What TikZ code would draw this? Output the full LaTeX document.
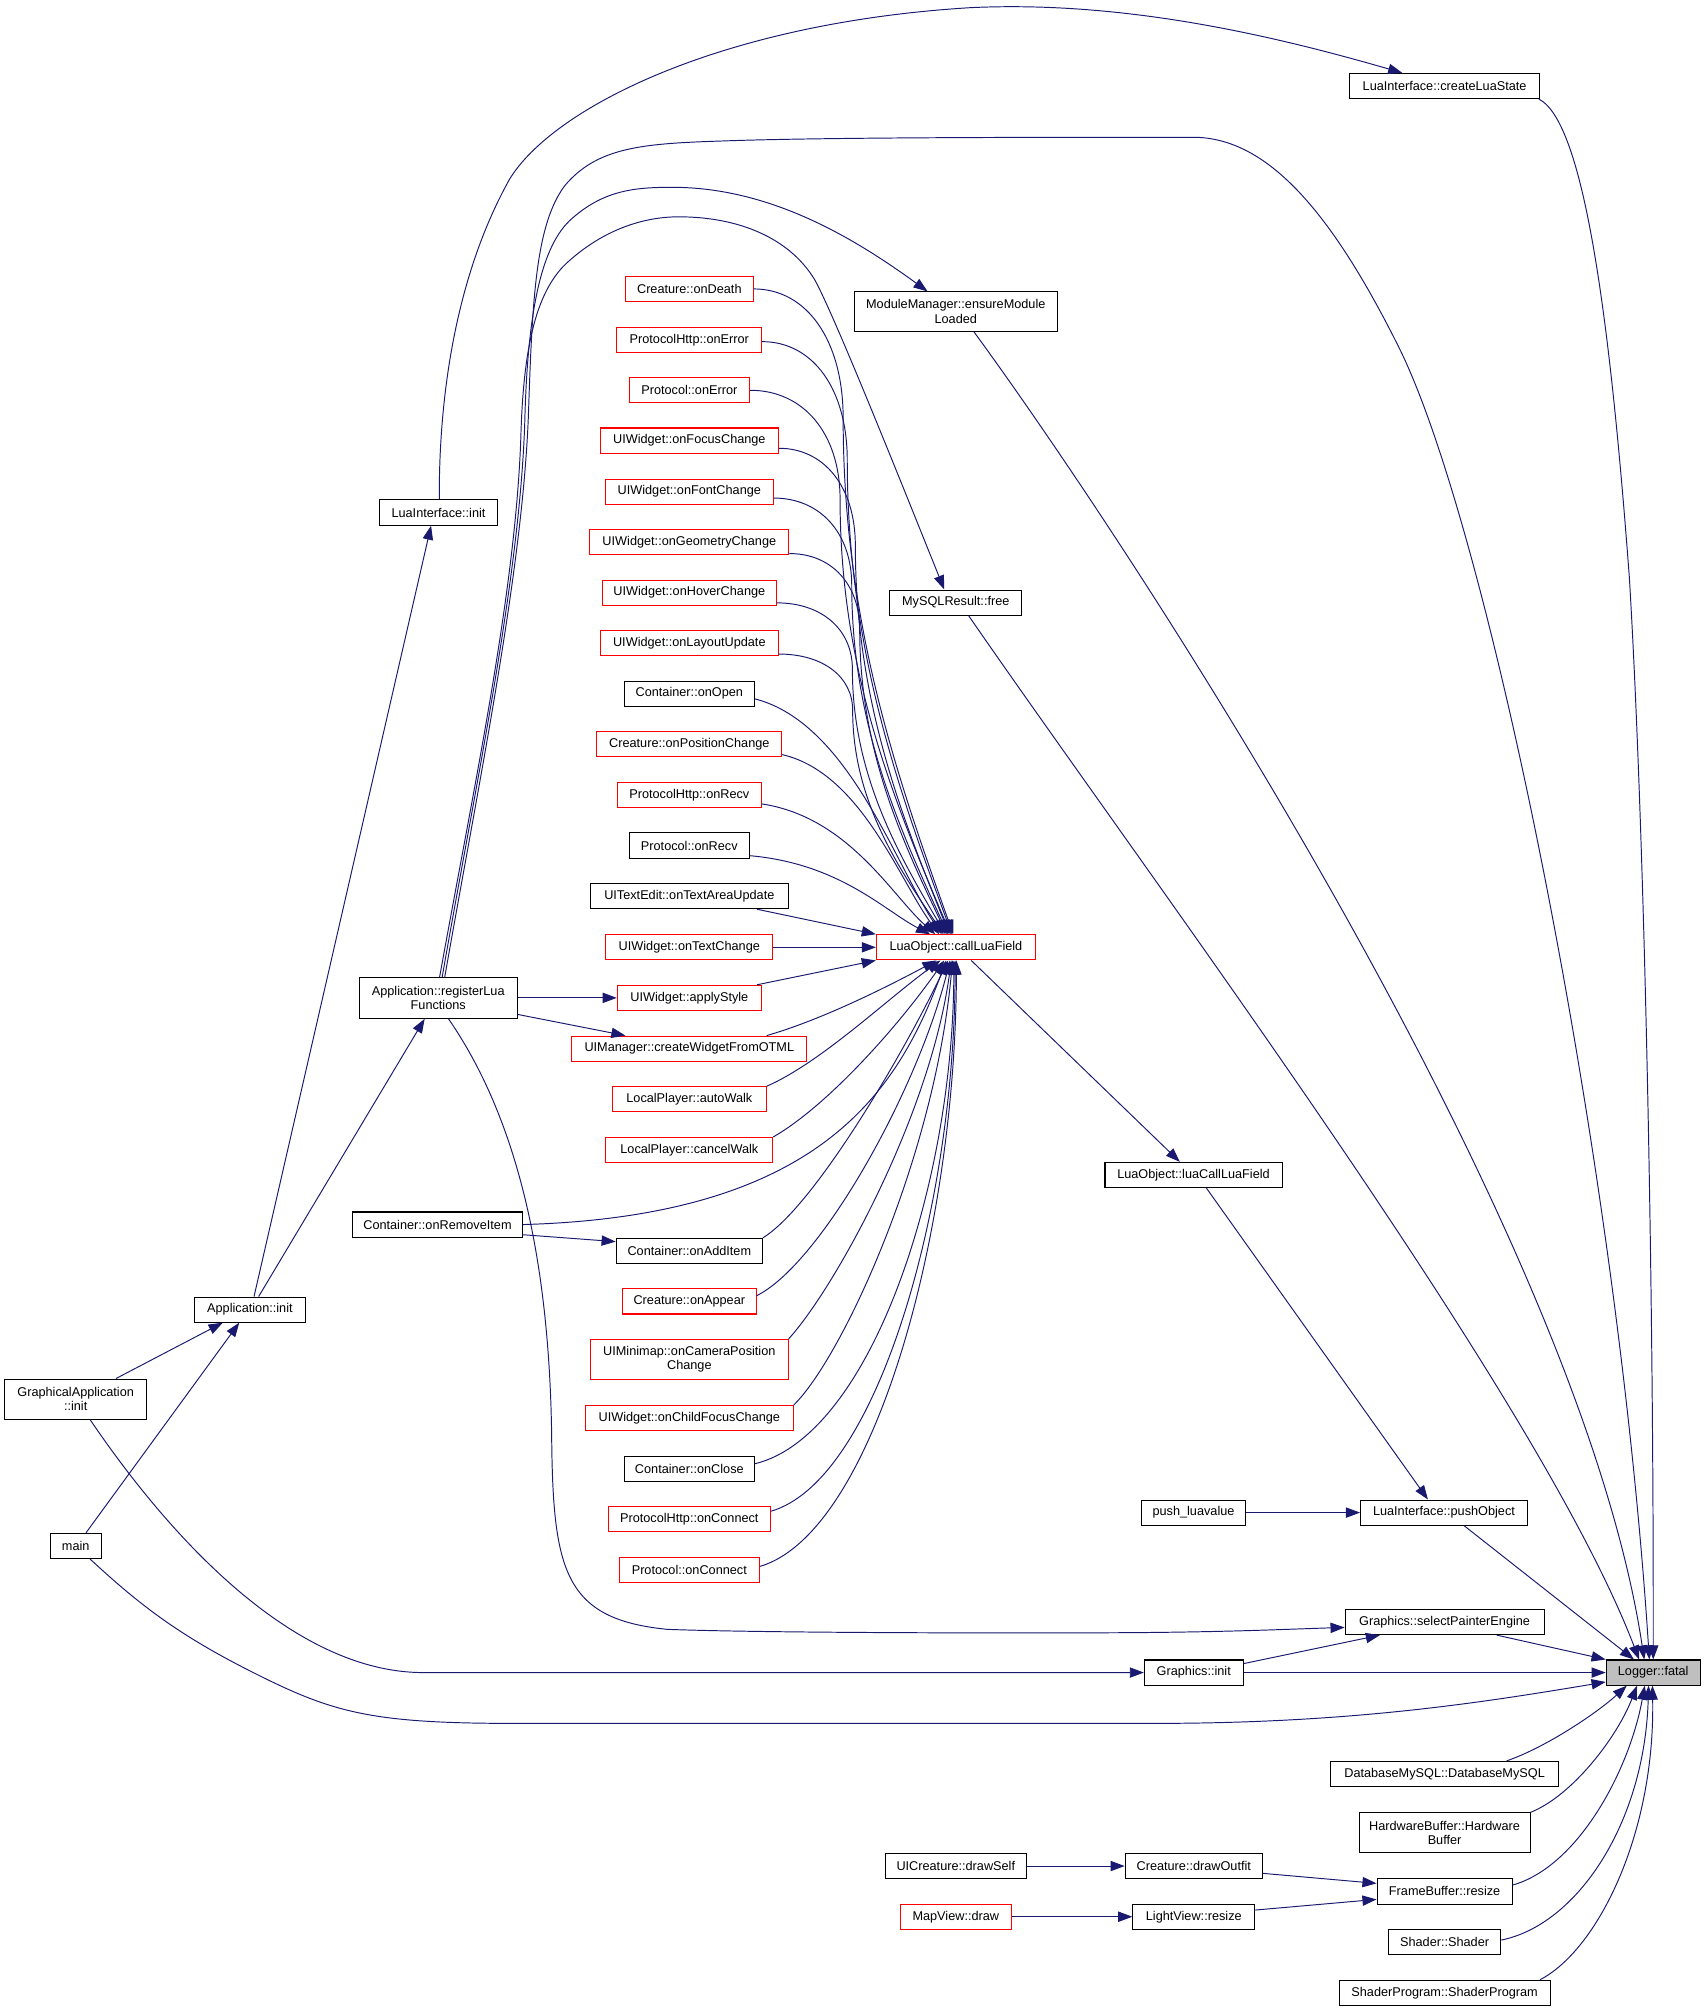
\documentclass[tikz,border=0pt]{standalone}
\usepackage{fontspec}
\setmainfont{Liberation Sans}
\usetikzlibrary{arrows.meta}
\definecolor{edgeblue}{HTML}{191970}
\definecolor{grayfill}{HTML}{BFBFBF}
\begin{document}
\begin{tikzpicture}[x=1pt,y=-1pt,
  nb/.style={draw=black, fill=white, line width=0.8pt, inner sep=0pt, align=center,
    font=\fontsize{9.9}{11}\selectfont, minimum height=19.6pt},
  nr/.style={nb, draw=red},
  ng/.style={nb, fill=grayfill},
  ed/.style={draw=edgeblue, line width=0.75pt, -{Triangle[length=11pt,width=8pt]}}]
\fill[white] (0,0) rectangle (1329,1567.5);
\useasboundingbox (0,0) rectangle (1329,1567.5);

% nodes
\node[ng, minimum width=73.3pt] (fatal) at (1288.6,1303.7) {Logger::fatal};
\node[nb, minimum width=148pt] (cls) at (1126,67) {LuaInterface::createLuaState};
\node[nb, minimum width=158pt, minimum height=30.5pt] (mm) at (745,242.8) {ModuleManager::ensureModule\\Loaded};
\node[nb, minimum width=103pt] (mysql) at (745,469.7) {MySQLResult::free};
\node[nb, minimum width=92pt] (lii) at (341.8,399.5) {LuaInterface::init};
\node[nr, minimum width=99.5pt] (n1) at (537.3,225.2) {Creature::onDeath};
\node[nr, minimum width=112.8pt] (n2) at (537.3,264.8) {ProtocolHttp::onError};
\node[nr, minimum width=94pt] (n3) at (537.3,304.2) {Protocol::onError};
\node[nr, minimum width=138.6pt] (n4) at (537.3,343.4) {UIWidget::onFocusChange};
\node[nr, minimum width=130.5pt] (n5) at (537.3,383.2) {UIWidget::onFontChange};
\node[nr, minimum width=155.3pt] (n6) at (537.3,422.5) {UIWidget::onGeometryChange};
\node[nr, minimum width=135.5pt] (n7) at (537.3,461.9) {UIWidget::onHoverChange};
\node[nr, minimum width=138.5pt] (n8) at (537.3,501.3) {UIWidget::onLayoutUpdate};
\node[nb, minimum width=101pt] (n9) at (537.3,540.7) {Container::onOpen};
\node[nr, minimum width=144pt] (n10) at (537.3,580.2) {Creature::onPositionChange};
\node[nr, minimum width=112pt] (n11) at (537.3,619.6) {ProtocolHttp::onRecv};
\node[nb, minimum width=94pt] (n12) at (537.3,659) {Protocol::onRecv};
\node[nb, minimum width=154.2pt] (n13) at (537.3,698.5) {UITextEdit::onTextAreaUpdate};
\node[nr, minimum width=130pt] (n14) at (537.3,738.4) {UIWidget::onTextChange};
\node[nr, minimum width=112.3pt] (n15) at (537.3,777.8) {UIWidget::applyStyle};
\node[nr, minimum width=183.2pt] (n16) at (537.3,817.4) {UIManager::createWidgetFromOTML};
\node[nr, minimum width=119.8pt] (n17) at (537.3,856.9) {LocalPlayer::autoWalk};
\node[nr, minimum width=130pt] (n18) at (537.3,896.4) {LocalPlayer::cancelWalk};
\node[nb, minimum width=132pt] (rem) at (341,954.5) {Container::onRemoveItem};
\node[nb, minimum width=114pt] (n19) at (537.3,975) {Container::onAddItem};
\node[nr, minimum width=104pt] (n20) at (537.3,1014.4) {Creature::onAppear};
\node[nr, minimum width=154pt, minimum height=31pt] (n21) at (537.3,1059.5) {UIMinimap::onCameraPosition\\Change};
\node[nr, minimum width=162pt] (n22) at (537.3,1105.3) {UIWidget::onChildFocusChange};
\node[nb, minimum width=101pt] (n23) at (537.3,1144.7) {Container::onClose};
\node[nr, minimum width=126pt] (n24) at (537.3,1184.1) {ProtocolHttp::onConnect};
\node[nr, minimum width=109pt] (n25) at (537.3,1223.5) {Protocol::onConnect};
\node[nr, minimum width=124pt] (clf) at (745.1,738.4) {LuaObject::callLuaField};
\node[nb, minimum width=138pt] (lclf) at (930.3,915.8) {LuaObject::luaCallLuaField};
\node[nb, minimum width=80.5pt] (plv) at (930.3,1179) {push\_luavalue};
\node[nb, minimum width=130pt] (po) at (1125.5,1179) {LuaInterface::pushObject};
\node[nb, minimum width=155pt] (spe) at (1126,1264.3) {Graphics::selectPainterEngine};
\node[nb, minimum width=77pt] (gi) at (930.5,1303.7) {Graphics::init};
\node[nb, minimum width=178pt] (db) at (1126,1382.7) {DatabaseMySQL::DatabaseMySQL};
\node[nb, minimum width=133.3pt, minimum height=31.2pt] (hb) at (1126,1428.6) {HardwareBuffer::Hardware\\Buffer};
\node[nb, minimum width=105.3pt] (fb) at (1126,1474.3) {FrameBuffer::resize};
\node[nb, minimum width=87.6pt] (sh) at (1126,1513.8) {Shader::Shader};
\node[nb, minimum width=164.5pt] (sp) at (1126,1553.3) {ShaderProgram::ShaderProgram};
\node[nb, minimum width=110pt] (ucd) at (745,1454.5) {UICreature::drawSelf};
\node[nb, minimum width=107pt] (cdo) at (930.5,1454.5) {Creature::drawOutfit};
\node[nr, minimum width=86.3pt] (mvd) at (745,1494) {MapView::draw};
\node[nb, minimum width=95pt] (lvr) at (930.5,1494) {LightView::resize};
\node[nb, minimum width=123pt, minimum height=31.5pt] (reg) at (341.6,778) {Application::registerLua\\Functions};
\node[nb, minimum width=86.5pt] (ai) at (194.8,1020.8) {Application::init};
\node[nb, minimum width=110.7pt, minimum height=31.2pt] (gai) at (59,1090.5) {GraphicalApplication\\::init};
\node[nb, minimum width=40pt] (mn) at (59,1205) {main};

% callers of callLuaField (upper)
\draw[ed] (n1.east) .. controls (629.1,225.2) and (657.2,265.5) .. (657.2,325.9) .. controls (657.2,487) and (700.1,607.8) .. ([xshift=-2.1pt]clf.north);
\draw[ed] ([yshift=-1.5pt]n2.east) .. controls (633.7,266.3) and (660.4,303.3) .. (660.4,358.8) .. controls (660.4,506.7) and (701.2,617.6) .. ([xshift=-3.1pt]clf.north);
\draw[ed] (n3.east) .. controls (626.6,304.2) and (654.8,338.2) .. (654.8,389.1) .. controls (654.8,524.9) and (697.9,626.7) .. ([xshift=-4.1pt]clf.north);
\draw[ed] ([yshift=-6pt]n4.east) .. controls (642.7,349.4) and (666.7,379.7) .. (666.7,425.2) .. controls (666.7,546.6) and (703.4,637.6) .. ([xshift=-5.1pt]clf.north);
\draw[ed] ([yshift=-5pt]n5.east) .. controls (639.3,388.2) and (663.9,415.4) .. (663.9,456.3) .. controls (663.9,565.2) and (701.5,646.9) .. ([xshift=-6.1pt]clf.north);
\draw[ed] ([yshift=-9pt]n6.east) .. controls (647.9,431.4) and (670.1,455.2) .. (670.1,490.8) .. controls (670.1,585.9) and (704.1,657.3) .. ([xshift=-7.1pt]clf.north);
\draw[ed] ([yshift=-8pt]n7.east) .. controls (640.6,469.9) and (664.4,490.6) .. (664.4,521.6) .. controls (664.4,604.4) and (700.7,666.5) .. ([xshift=-8.1pt]clf.north);
\draw[ed] ([yshift=-8.5pt]n8.east) .. controls (641.3,509.8) and (664.6,527.3) .. (664.6,553.6) .. controls (664.6,623.6) and (700,676.1) .. ([xshift=-9.6pt]clf.north);
\draw[ed] ([yshift=-4pt]n9.east) .. controls (660.9,563.1) and (697.5,673.4) .. ([xshift=-11.1pt]clf.north);
\draw[ed] ([yshift=-8pt]n10.east) .. controls (670.7,602.2) and (701.3,686.5) .. ([xshift=-13.1pt]clf.north);
\draw[ed] ([yshift=-7pt]n11.east) .. controls (661.2,636.8) and (695.1,698) .. ([xshift=-16.1pt]clf.north);
\draw[ed] ([yshift=-8pt]n12.east) .. controls (654.6,673.2) and (689.8,710.1) .. ([xshift=-20.1pt]clf.north);
\draw[ed] ([xshift=52.7pt]n13.south) -- (clf.north west);
\draw[ed] (n14.east) -- (clf.west);
\draw[ed] ([xshift=52.7pt]n15.north) -- (clf.south west);
% callers of callLuaField (lower)
\draw[ed] ([xshift=60.3pt]n16.north) .. controls (640,795) and (690,770) .. ([xshift=-15.1pt]clf.south);
\draw[ed] (n17.north east) .. controls (640,828) and (690,780) .. ([xshift=-12.1pt]clf.south);
\draw[ed] (n18.north east) .. controls (645,862) and (700,800) .. ([xshift=-9.1pt]clf.south);
\draw[ed] (rem.east) .. controls (640,948) and (700,850) .. ([xshift=-7.6pt]clf.south);
\draw[ed] (n19.north east) .. controls (635,940) and (705,820) .. ([xshift=-6.1pt]clf.south);
\draw[ed] ([yshift=4.4pt]n20.east) .. controls (640,985) and (715,850) .. ([xshift=-4.6pt]clf.south);
\draw[ed] (n21.north east) .. controls (650,1005) and (725,870) .. ([xshift=-3.6pt]clf.south);
\draw[ed] (n22.north east) .. controls (655,1060) and (728,905) .. ([xshift=-2.6pt]clf.south);
\draw[ed] ([yshift=3.7pt]n23.east) .. controls (678,1119.4) and (743,925) .. ([xshift=-1.6pt]clf.south);
\draw[ed] ([yshift=6.1pt]n24.east) .. controls (683.5,1154.4) and (744,941.7) .. ([xshift=-0.6pt]clf.south);
\draw[ed] ([yshift=2.5pt]n25.east) .. controls (680.7,1195) and (745,961) .. ([xshift=0.4pt]clf.south);

% registerLuaFunctions
\draw[ed] ([xshift=5pt]reg.north) .. controls (375,600) and (408,440) .. (412,320) .. controls (415,230) and (418,175) .. (440,145) .. controls (465,115) and (500,112) .. (560,110) .. controls (640,107) and (800,107) .. (930,107) .. controls (990,107) and (1040,170) .. (1090,270) .. controls (1160,410) and (1260,900) .. ([xshift=-3pt]fatal.north);
\draw[ed] ([xshift=3pt]reg.north) .. controls (372,605) and (405,450) .. (409,330) .. controls (411,250) and (420,195) .. (444,172) .. controls (470,148) and (495,146) .. (524,146) .. controls (600,146) and (665,185) .. ([xshift=-22pt]mm.north);
\draw[ed] ([xshift=1pt]reg.north) .. controls (370,610) and (402,460) .. (406,340) .. controls (408,270) and (418,225) .. (444,203) .. controls (470,180) and (500,169) .. (529,169) .. controls (575,169) and (615,185) .. (635,218) .. controls (650,245) and (700,370) .. ([xshift=-9pt]mysql.north);
\draw[ed] ([xshift=8pt]reg.south) .. controls (395,860) and (428,960) .. (430,1120) .. controls (431,1225) and (440,1262) .. (520,1270) .. controls (600,1273) and (800,1273) .. (880,1272.6) .. controls (960,1272) and (1000,1270) .. ([yshift=-4.2pt]spe.west);
\draw[ed] (reg.east |- n15.west) -- (n15.west);
\draw[ed] ([yshift=-12.7pt]reg.east) -- ([xshift=-49.8pt]n16.north);
\draw[ed] ([yshift=-7.9pt]rem.east) -- ([yshift=7.2pt]n19.west);

% LuaInterface
\draw[ed] ([xshift=0.6pt]lii.north) .. controls (342,300) and (358,210) .. (397,140) .. controls (430,85) and (560,18) .. (756,6) .. controls (880,0) and (1000,30) .. ([xshift=-33pt]cls.north);
\draw[ed] ([xshift=-1pt]cls.south east) .. controls (1235,95) and (1255,250) .. (1270,450) .. controls (1282,650) and (1289,1000) .. (fatal.north);

% application
\draw[ed] ([xshift=3.2pt]ai.north) -- ([xshift=-5.8pt]lii.south);
\draw[ed] ([xshift=6.8pt]ai.north) -- ([xshift=-10.6pt]reg.south);
\draw[ed] ([xshift=31.4pt]gai.north) -- ([xshift=-21.2pt]ai.south);
\draw[ed] ([xshift=8pt]mn.north) -- ([xshift=-8.3pt]ai.south);
\draw[ed] ([xshift=11.2pt]gai.south) .. controls (120,1180) and (220,1303.7) .. (330,1303.7) -- (gi.west);
\draw[ed] ([xshift=11.2pt]mn.south) .. controls (110,1252) and (140,1275) .. (200,1305) .. controls (260,1335) and (290,1343.3) .. (400,1343.3) -- (900,1343.3) .. controls (1050,1343.3) and (1150,1328) .. ([yshift=-7.3pt]fatal.west);

% lua call chain
\draw[ed] ([xshift=11.9pt]clf.south) -- ([xshift=-10.7pt]lclf.north);
\draw[ed] ([xshift=10pt]lclf.south) -- ([xshift=-12.5pt]po.north);
\draw[ed] (plv.east) -- (po.west);
\draw[ed] ([xshift=15.7pt]po.south) -- ([xshift=-15pt]fatal.north);
\draw[ed] ([xshift=10pt]mysql.south) .. controls (900,690) and (1200,1090) .. ([xshift=-11pt]fatal.north);
\draw[ed] ([xshift=14pt]mm.south) .. controls (870,410) and (1230,950) .. ([xshift=-7pt]fatal.north);

% graphics
\draw[ed] ([xshift=40.6pt]spe.south) -- (fatal.north west);
\draw[ed] ([yshift=7pt]gi.east) -- ([xshift=-50.4pt]spe.south);
\draw[ed] (gi.east) -- (fatal.west);

% bottom callers
\draw[ed] ([xshift=48.4pt]db.north) .. controls (1205,1362) and (1245,1335) .. ([xshift=-20.6pt]fatal.south);
\draw[ed] (hb.north east) .. controls (1225,1400) and (1260,1355) .. ([xshift=-12.6pt]fatal.south);
\draw[ed] ([yshift=5pt]fb.east) .. controls (1230,1455) and (1270,1380) .. ([xshift=-6.6pt]fatal.south);
\draw[ed] ([yshift=1.6pt]sh.east) .. controls (1230,1500) and (1282,1420) .. ([xshift=-3.6pt]fatal.south);
\draw[ed] ([xshift=74.4pt]sp.north) .. controls (1245,1520) and (1290,1430) .. ([xshift=-0.6pt]fatal.south);
\draw[ed] ([yshift=-5.7pt]cdo.east) -- ([yshift=6.3pt]fb.west);
\draw[ed] ([yshift=5.2pt]lvr.east) -- ([yshift=-6.2pt]fb.west);
\draw[ed] (ucd.east) -- (cdo.west);
\draw[ed] (mvd.east) -- (lvr.west);
\end{tikzpicture}
\end{document}
